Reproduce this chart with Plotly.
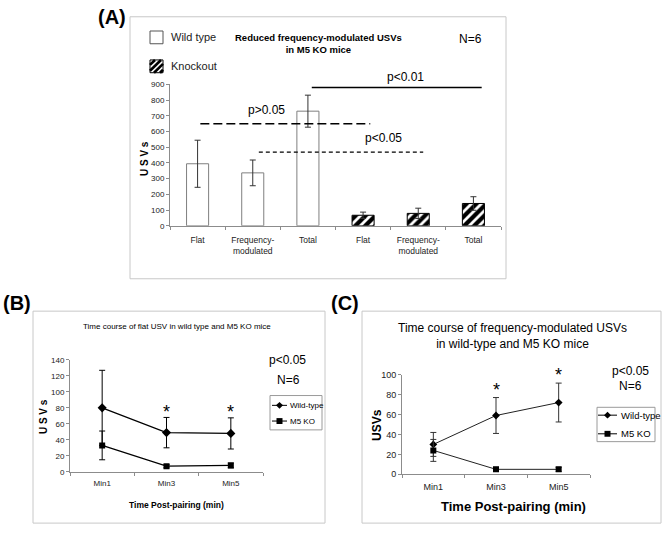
import plotly.graph_objects as go

W, H = 662, 533
def px(x): return x / W
def py(y): return 1 - y / H

NARROW = "Liberation Sans Narrow, Arial Narrow, Liberation Sans, Arial, sans-serif"
ARIAL = "Liberation Sans, Arial, sans-serif"

# ---------------- Panel A data ----------------
a_labels = ["Flat", "Frequency-<br>modulated", "Total", "Flat", "Frequency-<br>modulated", "Total"]
wt_values = [395, 337, 730]
wt_errors = [150, 82, 102]
ko_values = [67, 79, 142]
ko_errors = [20, 33, 43]
# significance bars
sig_y = [881, 650, 469]
sig_x0 = [2.07, 0.05, 1.11]
sig_x1 = [5.15, 3.13, 4.09]
sig_text = ["p<0.01", "p>0.05", "p<0.05"]

# ---------------- Panel B / C data ----------------
times = ["Min1", "Min3", "Min5"]
b_wt = [80, 49, 48]
b_wt_err = [47, 19, 19.5]
b_ko = [33, 7, 8]
b_ko_err = [18, 2, 3]
c_wt = [30, 59, 72]
c_wt_err = [12, 18, 19.5]
c_ko = [24, 5, 5]
c_ko_err = [11, 2, 2]

wt_x = list(range(len(wt_values)))
ko_x = [i + len(wt_values) for i in range(len(ko_values))]

fig = go.Figure()

# Panel A bars
fig.add_trace(go.Bar(
    x=wt_x, y=wt_values, width=0.4, name="Wild type", showlegend=False,
    marker=dict(color="white", line=dict(color="#7f7f7f", width=1)),
    error_y=dict(type="data", array=wt_errors, color="#333", thickness=1, width=3),
    xaxis="x", yaxis="y"))
fig.add_trace(go.Bar(
    x=ko_x, y=ko_values, width=0.4, name="Knockout", showlegend=False,
    marker=dict(color="white", line=dict(color="black", width=1),
                pattern=dict(shape="/", fgcolor="black", bgcolor="white", fgopacity=1,
                             size=7, solidity=0.6)),
    error_y=dict(type="data", array=ko_errors, color="#333", thickness=1, width=3),
    xaxis="x", yaxis="y"))

# Panel B lines
fig.add_trace(go.Scatter(
    x=times, y=b_wt, mode="lines+markers", name="Wild-type", showlegend=False,
    line=dict(color="black", width=1.3), marker=dict(symbol="diamond", size=7, color="black"),
    error_y=dict(type="data", array=b_wt_err, color="black", thickness=1, width=3),
    xaxis="x2", yaxis="y2"))
fig.add_trace(go.Scatter(
    x=times, y=b_ko, mode="lines+markers", name="M5 KO", showlegend=False,
    line=dict(color="black", width=1.3), marker=dict(symbol="square", size=6, color="black"),
    error_y=dict(type="data", array=b_ko_err, color="black", thickness=1, width=3),
    xaxis="x2", yaxis="y2"))

# Panel C lines
fig.add_trace(go.Scatter(
    x=times, y=c_wt, mode="lines+markers", name="Wild-type", showlegend=False,
    line=dict(color="#222", width=1), marker=dict(symbol="diamond", size=6, color="black"),
    error_y=dict(type="data", array=c_wt_err, color="#333", thickness=1, width=3),
    xaxis="x3", yaxis="y3"))
fig.add_trace(go.Scatter(
    x=times, y=c_ko, mode="lines+markers", name="M5 KO", showlegend=False,
    line=dict(color="#222", width=1), marker=dict(symbol="square", size=6, color="black"),
    error_y=dict(type="data", array=c_ko_err, color="#333", thickness=1, width=3),
    xaxis="x3", yaxis="y3"))

axis_common = dict(showgrid=False, zeroline=False, showline=True, linecolor="#8c8c8c",
                   linewidth=1, fixedrange=True)

fig.update_layout(
    width=W, height=H, margin=dict(l=0, r=0, t=0, b=0),
    paper_bgcolor="white", plot_bgcolor="white", bargap=0, showlegend=False,
    xaxis=dict(domain=[px(170), px(501)], range=[-0.5, 5.5], anchor="y",
               tickmode="array", tickvals=list(range(6)), ticktext=a_labels, ticks="",
               ticklabelstandoff=6,
               minor=dict(tickmode="array", tickvals=[i - 0.5 for i in range(7)], ticks="outside",
                          ticklen=3, tickcolor="#8c8c8c"),
               tickfont=dict(family=NARROW, size=8.5, color="#222"), **axis_common),
    yaxis=dict(domain=[py(225), py(81)], range=[0, 900], anchor="x", dtick=100,
               ticks="outside", ticklen=3, tickcolor="#8c8c8c",
               tickfont=dict(family=NARROW, size=8, color="#222"), **axis_common),
    xaxis2=dict(domain=[px(70), px(263)], range=[-0.5, 2.5], anchor="y2", type="category",
                ticks="", ticklabelstandoff=4,
                minor=dict(tickmode="array", tickvals=[-0.5, 0.5, 1.5, 2.5], ticks="outside",
                           ticklen=3, tickcolor="#8c8c8c"),
                tickfont=dict(family=NARROW, size=8, color="#222"), **axis_common),
    yaxis2=dict(domain=[py(475.7), py(361.7)], range=[0, 140], anchor="x2", dtick=20,
                ticks="outside", ticklen=3, tickcolor="#8c8c8c",
                tickfont=dict(family=NARROW, size=8, color="#222"), **axis_common),
    xaxis3=dict(domain=[px(402), px(590)], range=[-0.5, 2.5], anchor="y3", type="category",
                ticks="", ticklabelstandoff=4,
                minor=dict(tickmode="array", tickvals=[-0.5, 0.5, 1.5, 2.5], ticks="outside",
                           ticklen=3, tickcolor="#8c8c8c"),
                tickfont=dict(family=ARIAL, size=9, color="#222"), **axis_common),
    yaxis3=dict(domain=[py(478.3), py(376.7)], range=[0, 100], anchor="x3", dtick=20,
                ticks="outside", ticklen=3, tickcolor="#8c8c8c",
                tickfont=dict(family=ARIAL, size=9, color="#222"), **axis_common),
)

shapes = []
annots = []

# panel frames
for (x0, y0, x1, y1) in [(130, 12, 506, 279), (33, 312, 325, 528), (362, 312, 661, 528)]:
    shapes.append(dict(type="rect", xref="paper", yref="paper", x0=px(x0), x1=px(x1),
                       y0=py(y1), y1=py(y0), line=dict(color="#c8c8c8", width=1)))

# significance lines panel A
dashes = ["solid", "9px,4px", "4px,3px"]
widths = [1.5, 1.5, 1.2]
label_pos = [(405, 73), (266, 107), (383, 136)]
for i in range(3):
    shapes.append(dict(type="line", xref="x", yref="y", x0=sig_x0[i], x1=sig_x1[i],
                       y0=sig_y[i], y1=sig_y[i], line=dict(color="black", width=widths[i], dash=dashes[i])))
    annots.append(dict(text=sig_text[i], x=px(label_pos[i][0]), y=py(label_pos[i][1]),
                       font=dict(family=ARIAL, size=12, color="black")))

# Panel labels
for t, (x, y) in zip(["(A)", "(B)", "(C)"], [(112, 12), (17, 304), (345, 304)]):
    annots.append(dict(text="<b>%s</b>" % t, x=px(x), y=py(y),
                       font=dict(family=ARIAL, size=20, color="black")))

# Panel A texts
annots += [
    dict(text="<b>Reduced frequency-modulated USVs<br>in M5 KO mice</b>", x=px(318), y=py(39),
         font=dict(family=NARROW, size=9.5, color="black")),
    dict(text="N=6", x=px(470), y=py(35), font=dict(family=ARIAL, size=12, color="black")),
    dict(text="<b>U S V s</b>", x=px(144), y=py(157), textangle=-90,
         font=dict(family=NARROW, size=10, color="black")),
    dict(text="Wild type", x=px(169), y=py(33), xanchor="left",
         font=dict(family=ARIAL, size=11, color="#222")),
    dict(text="Knockout", x=px(169), y=py(62), xanchor="left",
         font=dict(family=ARIAL, size=11, color="#222")),
]
# Panel A legend swatches
shapes.append(dict(type="rect", xref="paper", yref="paper", x0=px(150), x1=px(163),
                   y0=py(39.5), y1=py(26.5), fillcolor="white", line=dict(color="#555", width=1)))
hx0, hy0, hs = 150, 56, 13
for c in [hx0 + hy0 + 5, hx0 + hy0 + 11, hx0 + hy0 + 17, hx0 + hy0 + 23]:
    xa = max(hx0, c - (hy0 + hs)); xb = min(hx0 + hs, c - hy0)
    if xb - xa < 1:
        continue
    shapes.append(dict(type="line", xref="paper", yref="paper", x0=px(xa), y0=py(c - xa),
                       x1=px(xb), y1=py(c - xb), line=dict(color="black", width=2.6)))
shapes.append(dict(type="rect", xref="paper", yref="paper", x0=px(hx0), x1=px(hx0 + hs),
                   y0=py(hy0 + hs), y1=py(hy0), line=dict(color="black", width=1)))

# Panel B texts
annots += [
    dict(text="Time course of flat USV in wild type and M5 KO mice", x=px(177), y=py(328),
         font=dict(family=NARROW, size=8, color="black")),
    dict(text="p<0.05", x=px(287), y=py(362), font=dict(family=ARIAL, size=12, color="black")),
    dict(text="N=6", x=px(288), y=py(382), font=dict(family=ARIAL, size=12, color="black")),
    dict(text="<b>U S V s</b>", x=px(43), y=py(420), textangle=-90,
         font=dict(family=NARROW, size=10, color="black")),
    dict(text="<b>Time Post-pairing (min)</b>", x=px(176), y=py(510),
         font=dict(family=NARROW, size=8.5, color="black")),
]
b_star_px = [411, 411]
for t, yv in zip(times[1:], b_star_px):
    annots.append(dict(text="*", x=t, y=py(yv + 4), xref="x2", yref="paper",
                       font=dict(family=ARIAL, size=18, color="black")))

# Panel C texts
annots += [
    dict(text="Time course of frequency-modulated USVs<br>in wild-type and M5 KO mice", x=px(512), y=py(337),
         font=dict(family=ARIAL, size=12, color="black")),
    dict(text="p<0.05", x=px(630), y=py(373), font=dict(family=ARIAL, size=12, color="black")),
    dict(text="N=6", x=px(630), y=py(388), font=dict(family=ARIAL, size=12, color="black")),
    dict(text="<b>USVs</b>", x=px(377), y=py(428), textangle=-90,
         font=dict(family=ARIAL, size=12, color="black")),
    dict(text="<b>Time Post-pairing (min)</b>", x=px(513), y=py(511),
         font=dict(family=ARIAL, size=13, color="black")),
]
c_star_px = [388, 373]
for t, yv in zip(times[1:], c_star_px):
    annots.append(dict(text="*", x=t, y=py(yv + 4), xref="x3", yref="paper",
                       font=dict(family=ARIAL, size=18, color="black")))

# manual legends for B and C
def diamond(cx, cy, r):
    return "M %f %f L %f %f L %f %f L %f %f Z" % (px(cx), py(cy - r), px(cx + r), py(cy),
                                                    px(cx), py(cy + r), px(cx - r), py(cy))
def square(cx, cy, r):
    return "M %f %f L %f %f L %f %f L %f %f Z" % (px(cx - r), py(cy - r), px(cx + r), py(cy - r),
                                                    px(cx + r), py(cy + r), px(cx - r), py(cy + r))

legend_specs = [
    dict(box=(270, 398, 322, 433), rows=[408, 424], lx=(272, 287), tx=288, font=NARROW, fs=8),
    dict(box=(597, 410, 655, 445), rows=[418, 437], lx=(598, 617), tx=619, font=ARIAL, fs=9.5),
]
for spec in legend_specs:
    x0, y0, x1, y1 = spec["box"]
    shapes.append(dict(type="rect", xref="paper", yref="paper", x0=px(x0), x1=px(x1),
                       y0=py(y1), y1=py(y0), line=dict(color="#9a9a9a", width=1)))
    for j, (ry, name) in enumerate(zip(spec["rows"], ["Wild-type", "M5 KO"])):
        shapes.append(dict(type="line", xref="paper", yref="paper", x0=px(spec["lx"][0]),
                           x1=px(spec["lx"][1]), y0=py(ry), y1=py(ry), line=dict(color="black", width=1)))
        cx = (spec["lx"][0] + spec["lx"][1]) / 2
        path = diamond(cx, ry, 3.5) if j == 0 else square(cx, ry, 3)
        shapes.append(dict(type="path", xref="paper", yref="paper", path=path,
                           fillcolor="black", line=dict(color="black", width=0)))
        annots.append(dict(text=name, x=px(spec["tx"]), y=py(ry), xanchor="left",
                           font=dict(family=spec["font"], size=spec["fs"], color="black")))

for a in annots:
    a.setdefault("xref", "paper")
    a.setdefault("yref", "paper")
    a.setdefault("showarrow", False)
    a.setdefault("xanchor", "center")
    a.setdefault("yanchor", "middle")

fig.update_layout(shapes=shapes, annotations=annots)
fig.write_html("out.html", config={"displayModeBar": False, "staticPlot": True},
               post_script="document.body.style.margin='0';document.body.style.overflow='hidden';")
